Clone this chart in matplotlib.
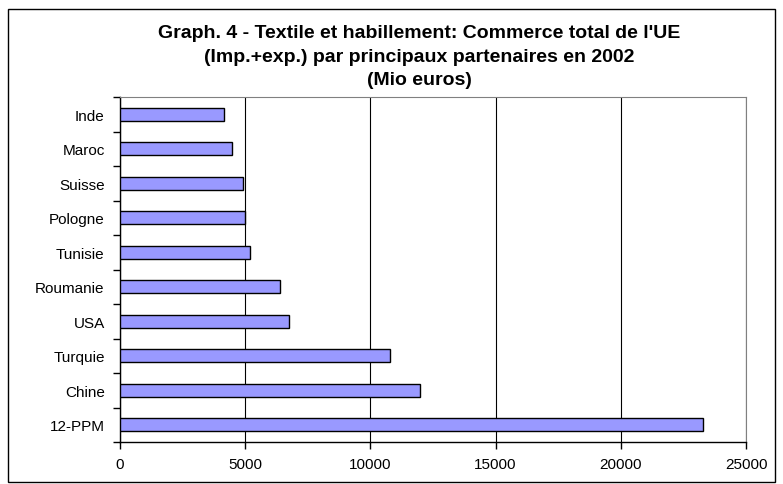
import matplotlib
matplotlib.use("Agg")
import matplotlib.pyplot as plt
from matplotlib.patches import Rectangle
import numpy as np

plt.rcParams['font.family'] = ['Liberation Sans', 'DejaVu Sans']

partners = ['Inde', 'Maroc', 'Suisse', 'Pologne', 'Tunisie',
            'Roumanie', 'USA', 'Turquie', 'Chine', '12-PPM']
values = [4160, 4480, 4920, 4990, 5190, 6400, 6730, 10770, 11970, 23300]
xticks = [0, 5000, 10000, 15000, 20000, 25000]

fig = plt.figure(figsize=(7.83, 4.85), dpi=100)
# outer chart border
fig.patches.append(Rectangle((8/783, 2/485), 767/783, 473/485,
                             transform=fig.transFigure, fill=False,
                             edgecolor='black', linewidth=1))

ax = fig.add_axes([120/783, 1 - 443/485, 626/783, 345/485])
y = np.arange(len(partners))
ax.barh(y, values, height=0.38, color='#9999FF', edgecolor='black',
        linewidth=1, zorder=3)

ax.set_xlim(0, 25000)
ax.set_ylim(len(partners) - 0.5, -0.5)
ax.set_xticks(xticks)
ax.set_xticklabels([str(t) for t in xticks], fontsize=11)
ax.set_yticks(y)
ax.set_yticklabels(partners, fontsize=11)
ax.set_yticks(np.arange(-0.5, len(partners), 1), minor=True)
ax.tick_params(axis='y', which='major', length=0, pad=11)
ax.tick_params(axis='y', which='minor', length=5, direction='out', width=1)
ax.tick_params(axis='x', length=5, direction='out', width=1, pad=6)

ax.grid(axis='x', color='black', linewidth=0.8, zorder=0)
for s in ['top', 'right']:
    ax.spines[s].set_color('#808080')
    ax.spines[s].set_linewidth(0.8)
for s in ['left', 'bottom']:
    ax.spines[s].set_color('black')
    ax.spines[s].set_linewidth(1)

fig.text(419/783, 1 - 57/485,
         "Graph. 4 - Textile et habillement: Commerce total de l'UE\n"
         "(Imp.+exp.) par principaux partenaires en 2002\n(Mio euros)",
         ha='center', va='center', fontsize=14, fontweight='bold',
         linespacing=1.5)

fig.savefig('out.png', dpi=100)
